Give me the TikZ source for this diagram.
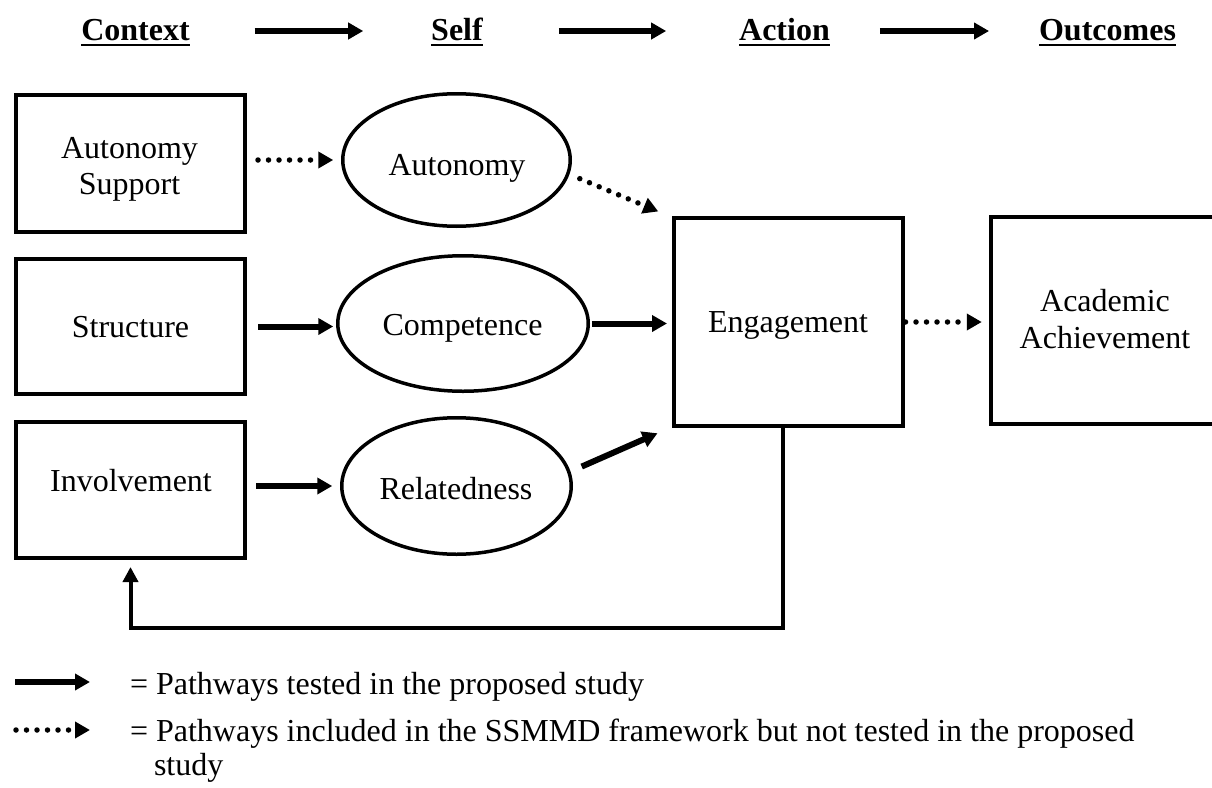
\documentclass[tikz,border=0pt]{standalone}
\usepackage{fontspec}
\setmainfont{Liberation Serif}
\usetikzlibrary{arrows.meta,shapes.geometric}
\begin{document}
\begin{tikzpicture}[x=1pt,y=-1pt,
  every node/.style={font=\fontsize{32}{37}\selectfont},
  boxnode/.style={draw, line width=4pt, rectangle, inner sep=0pt, outer sep=0pt},
  ellnode/.style={draw, line width=3.5pt, ellipse, inner sep=0pt, outer sep=0pt},
  txt/.style={inner sep=0pt, outer sep=0pt, anchor=base},
  hdr/.style={txt, font=\fontsize{32}{37}\selectfont\bfseries},
  uline/.style={line width=1.6pt},
  solidarrow/.style={line width=6pt, -{Triangle[length=15pt,width=16pt]}},
  dotarrow/.style={line width=5.5pt, line cap=round, dash pattern=on 0pt off 10.5pt, -{Triangle[length=15pt,width=16pt]}},
  fbarrow/.style={line width=4pt, -{Triangle[length=15pt,width=15pt]}}
]
\useasboundingbox (0,0) rectangle (1212,787);
\clip (0,0) rectangle (1212,787);

% header
\node[hdr] (ctx) at (135.5,40) {Context};
\node[hdr] (slf) at (457,40) {Self};
\node[hdr] (act) at (784.5,40) {Action};
\node[hdr] (out) at (1107.5,40) {Outcomes};
\foreach \n in {ctx,slf,act,out}
  \draw[uline] ([yshift=-5pt]\n.base west) -- ([yshift=-5pt]\n.base east);
\draw[solidarrow, shorten <=65pt, shorten >=68pt] ([yshift=9pt]ctx.base east) -- ([yshift=9pt]slf.base west);
\draw[solidarrow, shorten <=76pt, shorten >=73pt] ([yshift=9pt]slf.base east) -- ([yshift=9pt]act.base west);
\draw[solidarrow, shorten <=50pt, shorten >=50pt] ([yshift=9pt]act.base east) -- ([yshift=9pt]out.base west);

% context boxes
\node[boxnode, minimum width=229pt, minimum height=137pt] (as) at (130.5,163.5) {};
\node[txt] (asT1) at (129.5,158) {Autonomy};
\node[txt] (asT2) at (129.5,194) {Support};
\node[boxnode, minimum width=229pt, minimum height=135pt] (str) at (130.5,326.5) {};
\node[txt] (strT) at (130.5,337) {Structure};
\node[boxnode, minimum width=229pt, minimum height=136pt] (inv) at (130.5,490) {};
\node[txt] (invT) at (131,491) {Involvement};

% self ellipses
\node[ellnode, minimum width=227.5pt, minimum height=132.5pt] (aut) at (456.5,160) {};
\node[txt] (autT) at (457,175) {Autonomy};
\node[ellnode, minimum width=250.5pt, minimum height=135.5pt] (comp) at (463,323.5) {};
\node[txt] (compT) at (462.5,335) {Competence};
\node[ellnode, minimum width=229.5pt, minimum height=136.5pt] (rel) at (456.5,486) {};
\node[txt] (relT) at (456,499) {Relatedness};

% action / outcome
\node[boxnode, minimum width=228.5pt, minimum height=208pt] (eng) at (788.25,322) {};
\node[txt] (engT) at (788,332) {Engagement};
\node[boxnode, minimum width=231.25pt, minimum height=207pt] (acad) at (1106.4,320.5) {};
\node[txt] (acadT1) at (1105,311) {Academic};
\node[txt] (acadT2) at (1105,348) {Achievement};

% connectors
\draw[dotarrow, shorten <=13pt, shorten >=9.5pt] (as.east |- aut.west) -- (aut.west);
\draw[solidarrow, shorten <=13pt, shorten >=4.5pt] (str.east) -- (str.east -| comp.west);
\draw[solidarrow, shorten <=11pt, shorten >=9.5pt] (inv.east |- rel.west) -- (rel.west);
\draw[dotarrow, shorten <=13pt, shorten >=17pt] (aut.-7) -- (eng.north west);
\draw[solidarrow, shorten <=3.5pt, shorten >=7pt] (comp.east) -- (comp.east -| eng.west);
\draw[solidarrow, shorten <=14pt, shorten >=18pt] (rel.7) -- (eng.south west);
\draw[dotarrow, shorten <=3pt, shorten >=9pt] (eng.east) -- (eng.east -| acad.west);
\draw[fbarrow, shorten >=9pt] ([xshift=-5pt]eng.south) -- ++(0,202) -| (inv.south);

% legend
\coordinate (l1s) at (15,682);
\coordinate (l1e) at (90,682);
\draw[solidarrow] (l1s) -- (l1e);
\node[txt, anchor=base west] (l1t) at (130,694) {= Pathways tested in the proposed study};
\coordinate (l2s) at (16,730);
\coordinate (l2e) at (90,730);
\draw[dotarrow] (l2s) -- (l2e);
\node[txt, anchor=base west] (l2t) at (130,741) {= Pathways included in the SSMMD framework but not tested in the proposed};
\node[txt, anchor=base west] (l2u) at (154,775) {study};
\end{tikzpicture}
\end{document}
